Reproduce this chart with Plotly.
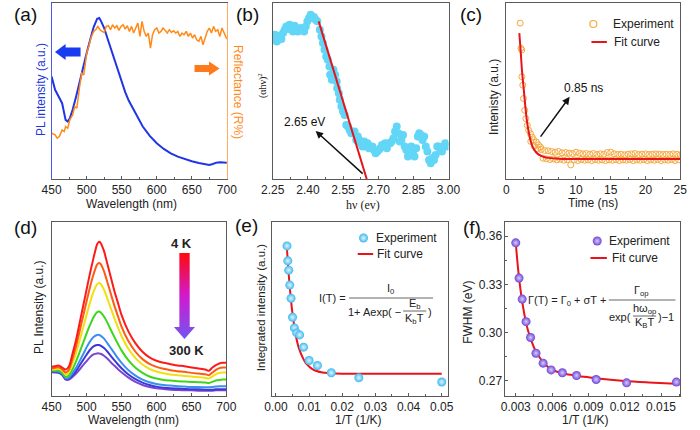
import plotly.graph_objects as go

# ---------------- (a) PL spectrum and reflectance ----------------
a_pl_wl = [450,455,460,465,470,473,476,480,485,490,495,500,505,510,515,518,520,525,530,535,
           540,545,550,555,560,570,580,590,600,610,620,630,640,650,660,670,675,680,685,690,695,700]
a_pl = [307,267,247,227,177,172,182,207,247,292,337,377,417,455,480,482,475,452,419,387,
        352,319,287,260,235,194,157,129,107,90,77,67,59,53,48,44,42,45,49,50,50,49]
a_ref_wl = [450,455,458,461,465,468,470,473,476,480,483,486,490,493,496,498,500,503,506,
            510,513,516,519,522,525,528,531,534,537,540,543,546,549,552,555,558,561,564,567,
            570,573,576,579,582,585,588,591,594,597,600,603,606,609,612,615,618,621,624,627,
            630,633,636,639,642,645,648,651,654,657,660,663,666,669,672,675,678,681,684,687,
            690,693,696,700]
a_ref = [137,132,122,127,147,142,157,152,177,192,217,212,277,317,312,347,377,397,422,
         442,447,457,447,442,439,457,459,447,462,452,459,445,457,462,449,459,442,457,437,
         452,467,427,472,442,427,437,392,432,447,452,437,442,452,445,437,447,439,444,437,
         442,427,437,432,442,427,437,422,432,417,412,427,402,422,442,452,437,457,442,447,
         427,452,437,419]

# ---------------- (b) Tauc plot ----------------
b_e = [2.253,2.260,2.267,2.274,2.280,2.287,2.294,2.301,2.308,2.315,2.322,2.329,2.336,2.343,
       2.350,2.357,2.363,2.370,2.377,2.384,2.391,2.398,2.405,2.412,2.419,2.426,2.433,2.440,
       2.451,2.458,2.464,2.471,2.478,2.485,2.492,2.495,2.502,2.509,2.516,2.523,2.525,2.532,
       2.536,2.543,2.550,2.557,2.564,2.571,2.578,2.585,2.592,2.599,2.606,2.613,
       2.619,2.626,2.633,2.640,2.647,2.654,2.661,2.668,2.675,2.682,2.689,2.696,2.702,2.709,
       2.716,2.723,2.730,2.737,2.744,2.751,2.758,2.765,2.772,2.779,2.786,2.792,2.799,2.806,
       2.813,2.820,2.827,2.834,2.841,2.848,2.855,2.862,2.869,2.875,2.882,2.889,2.896,2.903,
       2.910,2.917,2.924,2.931,2.938,2.945,2.952,2.958,2.965,2.972,2.979,2.986,2.993]
b_abs = [422,432,412,417,429,419,437,447,457,449,462,452,442,459,452,442,447,452,445,442,
         457,472,482,492,482,485,477,472,
         447,427,407,387,367,357,337,312,297,327,312,292,272,257,237,217,202,192,162,157,
         147,137,137,142,117,127,
         117,107,97,112,97,107,92,97,97,87,77,82,87,92,102,97,107,92,107,107,
         112,122,142,157,137,112,117,132,97,87,67,87,97,77,67,92,127,137,132,117,
         127,97,82,57,47,62,57,72,97,97,87,82,97,107,97]
b_fit_e = [2.446, 2.651]
b_fit = [472, 0]

# ---------------- (c) PL decay ----------------
c_t = [1.98,2.08,2.2,2.22,2.35,2.45,2.63,2.8,3.0,3.2,3.46,3.5,3.7,3.9,4.0,4.3,4.5,4.6,4.9,
       5.0,5.25,5.5,5.75,6.0,6.25,6.5,6.75,7.0,7.25,7.5,7.75,8.0,8.25,8.5,8.75,9.0,9.25,9.5,9.75,
       10.0,10.25,10.5,10.75,11.0,11.25,11.5,11.75,12.0,12.25,12.5,12.75,13.0,13.25,13.5,13.75,
       14.0,14.25,14.5,14.75,15.0,15.25,15.5,15.75,16.0,16.25,16.5,16.75,17.0,17.25,17.5,17.75,
       18.0,18.25,18.5,18.75,19.0,19.25,19.5,19.75,20.0,20.25,20.5,20.75,21.0,21.25,21.5,21.75,
       22.0,22.25,22.5,22.75,23.0,23.25,23.5,23.75,24.0,24.25,24.5,24.75,25.0]
c_int = [465,390,385,305,280,240,205,180,160,145,135,112,125,117,98,110,90,102,95,
         88,62,85,60,84,58,82,60,80,57,82,59,78,56,79,58,77,42,76,57,
         80,55,77,58,75,56,76,57,74,55,76,58,73,56,75,57,
         74,55,79,57,80,56,75,58,73,55,74,57,72,56,74,58,
         75,55,76,57,73,56,74,58,75,55,73,57,74,56,75,58,
         74,55,73,57,74,56,73,58,75,55,74,57,72]
c_fit_t = [1.85,2.0,2.25,2.5,2.75,3.0,3.25,3.5,3.75,4.0,4.5,5.0,5.5,6.0,7.0,8.0,25.0]
c_fit = [435,395,320,265,210,165,135,112,97,87,75,69,65,63,61,60,60]

# ---------------- (d) temperature-dependent PL ----------------
d_wl = [450,455,460,465,470,475,480,485,490,495,500,505,510,515,518,520,525,530,535,540,
        545,550,560,570,580,590,600,610,620,630,640,650,660,670,675,680,685,690,695,700]
d_4K = [87,89,91,85,79,89,127,167,217,267,317,367,412,452,460,457,432,392,352,312,
        277,242,192,157,132,115,105,99,95,91,89,85,82,79,75,85,92,97,99,99]
d_T2 = [82,84,86,80,70,80,112,148,192,237,282,325,363,392,397,394,372,338,303,268,
        237,207,163,132,110,96,87,81,77,74,72,69,67,65,62,70,78,83,85,85]
d_T3 = [79,80,82,76,64,72,98,128,165,203,242,279,311,333,337,335,317,289,260,231,
        204,179,140,113,94,81,73,68,64,62,60,58,56,54,52,58,65,69,70,70]
d_T4 = [77,76,76,70,57,62,80,103,130,158,186,212,235,250,252,250,237,218,196,175,
        155,136,106,84,69,58,52,48,46,44,43,42,41,40,39,42,46,48,49,49]
d_T5 = [75,74,73,67,53,55,68,84,104,124,145,163,176,182,182,180,171,157,142,127,
        112,99,77,61,49,41,36,33,31,29,28,27,27,26,26,27,28,29,29,29]
d_T6 = [73,72,71,65,51,52,62,75,91,107,123,138,148,152,152,150,143,132,119,106,
        94,83,64,50,40,33,28,25,23,22,21,20,20,19,19,19,20,20,20,20]
d_300K = [71,70,69,63,49,49,57,67,79,92,104,116,124,127,127,126,120,111,100,90,
          80,71,55,42,33,27,23,21,19,18,17,17,16,16,16,16,17,17,17,17]
d_series = [d_300K, d_T6, d_T5, d_T4, d_T3, d_T2, d_4K]
d_colors = ["#7b45d0", "#3a3ad8", "#3a8ff0", "#3dd61a", "#f0e010", "#ff5a14", "#ff1a1a"]

# ---------------- (e) integrated intensity ----------------
e_invT = [0.00333,0.00357,0.00385,0.00417,0.00455,0.005,0.00556,0.00625,0.00714,0.00833,
          0.01,0.0125,0.0167,0.025,0.05]
e_int = [452,407,379,334,294,237,205,190,184,147,107,92,70,55,42]
e_fit_x = [0.0033,0.0036,0.004,0.0045,0.005,0.0055,0.006,0.0065,0.007,0.008,0.009,0.010,
           0.011,0.012,0.014,0.016,0.02,0.03,0.05]
e_fit = [445,402,347,292,247,212,182,159,142,117,99,89,81,76,71,69,67,67,67]

# ---------------- (f) FWHM ----------------
f_invT = [0.0030,0.00327,0.00353,0.00385,0.00422,0.00467,0.00526,0.00592,0.00685,0.00802,
          0.00964,0.01216,0.01627]
f_fwhm = [0.3559,0.3339,0.3208,0.3067,0.2968,0.2870,0.2808,0.2766,0.2748,0.2731,
          0.2706,0.2685,0.2690]
f_fit_x = [0.0030,0.0032,0.0034,0.0036,0.0038,0.0040,0.0043,0.0046,0.0050,0.0055,0.0060,
           0.0065,0.0070,0.0080,0.0090,0.0100,0.0120,0.0140,0.0162]
f_fit = [0.3559,0.3390,0.3260,0.3160,0.3078,0.3015,0.2945,0.2890,0.2840,0.2795,0.2767,
         0.2752,0.2742,0.2730,0.2720,0.2711,0.2697,0.2688,0.2680]

# ================= figure =================
W, H = 700, 430
def px(x): return x / W
def py(y): return 1 - y / H

FONT = "Liberation Sans, Arial, sans-serif"
GRAY = "#5a5a5a"
RED = "#e8141b"
TOP = [py(179), py(3)]
BOT = [py(396), py(222)]

fig = go.Figure()

# (a)
fig.add_trace(go.Scatter(x=a_pl_wl, y=a_pl, xaxis="x", yaxis="y", mode="lines",
                         line=dict(color="#1f35e6", width=2)))
fig.add_trace(go.Scatter(x=a_ref_wl, y=a_ref, xaxis="x", yaxis="y8", mode="lines",
                         line=dict(color="#ff8a1a", width=1.5)))
# (b)
fig.add_trace(go.Scatter(x=b_e, y=b_abs, xaxis="x2", yaxis="y2", mode="markers",
                         marker=dict(color="#62d6f6", size=8)))
fig.add_trace(go.Scatter(x=b_fit_e, y=b_fit, xaxis="x2", yaxis="y2", mode="lines",
                         line=dict(color=RED, width=2)))
# (c)
fig.add_trace(go.Scatter(x=c_t, y=c_int, xaxis="x3", yaxis="y3", mode="markers",
                         marker=dict(symbol="circle-open", color="#f5a83c", size=6,
                                     line=dict(width=1))))
fig.add_trace(go.Scatter(x=c_fit_t, y=c_fit, xaxis="x3", yaxis="y3", mode="lines",
                         line=dict(color=RED, width=2, shape="spline")))
# (d)
for s, c in zip(d_series, d_colors):
    fig.add_trace(go.Scatter(x=d_wl, y=s, xaxis="x4", yaxis="y4", mode="lines",
                             line=dict(color=c, width=2, shape="spline", smoothing=0.6)))
# (e)
fig.add_trace(go.Scatter(x=e_fit_x, y=e_fit, xaxis="x5", yaxis="y5", mode="lines",
                         line=dict(color=RED, width=2, shape="spline")))
fig.add_trace(go.Scatter(x=e_invT, y=e_int, xaxis="x5", yaxis="y5", mode="markers",
                         marker=dict(color="#3fb8ee", size=9,
                                     gradient=dict(type="radial", color="#dff6ff"))))
# (f)
fig.add_trace(go.Scatter(x=f_fit_x, y=f_fit, xaxis="x6", yaxis="y6", mode="lines",
                         line=dict(color=RED, width=2, shape="spline")))
fig.add_trace(go.Scatter(x=f_invT, y=f_fwhm, xaxis="x6", yaxis="y6", mode="markers",
                         marker=dict(color="#6f45d6", size=9,
                                     gradient=dict(type="radial", color="#d8ccff"))))

# ---- decorations on a full-canvas pixel overlay (x9/y9) ----
def poly(pts, **kw):
    xs = [p[0] for p in pts] + [pts[0][0]]
    ys = [p[1] for p in pts] + [pts[0][1]]
    fig.add_trace(go.Scatter(x=xs, y=ys, xaxis="x9", yaxis="y9", mode="lines",
                             fill="toself", line=dict(width=0), hoverinfo="skip", **kw))

# block arrows in (a)
poly([(44.5, 52), (55.5, 44), (55.5, 47.5), (71, 47.5), (71, 56.5), (55.5, 56.5), (55.5, 60)],
     fillcolor="#1a3cf0")
poly([(215, 68.5), (204, 61.5), (204, 65), (189, 65), (189, 72), (204, 72), (204, 75.5)],
     fillcolor="#ff7a1a")
# gradient arrow in (d)
poly([(173.3, 253), (184, 253), (184, 327), (189.5, 327), (178.6, 339), (167.7, 327), (173.3, 327)],
     fillgradient=dict(type="vertical", start=253, stop=339,
                       colorscale=[[0, "#ff0a0a"], [0.5, "#d01ad0"], [1, "#7355f0"]]))

# legend symbols
def leg_marker(x, y, marker):
    fig.add_trace(go.Scatter(x=[x], y=[y], xaxis="x9", yaxis="y9", mode="markers",
                             marker=marker, hoverinfo="skip"))
def leg_line(x0, x1, y):
    fig.add_trace(go.Scatter(x=[x0, x1], y=[y, y], xaxis="x9", yaxis="y9", mode="lines",
                             line=dict(color=RED, width=2), hoverinfo="skip"))

leg_marker(602, 24, dict(symbol="circle-open", color="#f5a83c", size=7, line=dict(width=1.2)))
leg_line(600, 616, 42)
leg_marker(364, 238, dict(color="#3fb8ee", size=9, gradient=dict(type="radial", color="#dff6ff")))
leg_line(358, 374, 254)
leg_marker(606, 241, dict(color="#6f45d6", size=9, gradient=dict(type="radial", color="#d8ccff")))
leg_line(599, 616, 258)

# ---- axes ----
tickfont = dict(family=FONT, size=12, color="#222")
def xax(domain, rng, anchor, tick0, dtick, minor, fmt=None):
    d = dict(domain=domain, range=rng, anchor=anchor, showline=True, linecolor=GRAY,
             linewidth=1, mirror=True, ticks="inside", ticklen=3, tickcolor=GRAY,
             tick0=tick0, dtick=dtick, showgrid=False, zeroline=False, tickfont=tickfont,
             minor=dict(ticks="inside", ticklen=2, tickcolor=GRAY, dtick=minor, showgrid=False),
             fixedrange=True)
    if fmt:
        d["tickformat"] = fmt
    return d
def yax(domain, rng, anchor):
    return dict(domain=domain, range=rng, anchor=anchor, showline=True, linecolor=GRAY,
                linewidth=1, mirror=True, ticks="", showticklabels=False, showgrid=False,
                zeroline=False, fixedrange=True)

layout = dict(
    width=W, height=H, margin=dict(l=0, r=0, t=0, b=0), autosize=False,
    paper_bgcolor="white", plot_bgcolor="rgba(0,0,0,0)", showlegend=False,
    font=dict(family=FONT, size=12, color="#222"), hovermode=False,
    xaxis=xax([px(41), px(222.5)], [450, 700], "y", 450, 50, 25),
    yaxis=dict(yax(TOP, [0, 527], "x"), mirror=False, linecolor="#4a5cf0"),
    yaxis8=dict(domain=TOP, range=[0, 527], anchor="x", overlaying="y", side="right",
                showline=True, linecolor="#ffae60", linewidth=1, ticks="",
                showticklabels=False, showgrid=False, zeroline=False, fixedrange=True),
    xaxis2=xax([px(270), px(452)], [2.25, 3.0], "y2", 2.25, 0.15, 0.075, ".2f"),
    yaxis2=yax(TOP, [0, 527], "x2"),
    xaxis3=xax([px(512), px(692)], [0, 25], "y3", 0, 5, 2.5),
    yaxis3=yax(TOP, [0, 525], "x3"),
    xaxis4=xax([px(41), px(222)], [450, 700], "y4", 450, 50, 25),
    yaxis4=yax(BOT, [0, 519], "x4"),
    xaxis5=xax([px(269), px(451)], [-0.00126, 0.05175], "y5", 0, 0.01, 0.005, ".2f"),
    yaxis5=yax(BOT, [0, 524], "x5"),
    xaxis6=xax([px(511), px(692)], [0.00215, 0.01659], "y6", 0.003, 0.003, 0.0015, ".3f"),
    yaxis6=dict(yax(BOT, [0.2603, 0.3689], "x6"), ticks="inside", ticklen=3, tickcolor=GRAY,
                showticklabels=True, tick0=0.27, dtick=0.03, tickformat=".2f", tickfont=tickfont,
                minor=dict(ticks="inside", ticklen=2, tickcolor=GRAY, dtick=0.015)),
    xaxis9=dict(domain=[0, 1], range=[0, W], anchor="y9", visible=False, fixedrange=True),
    yaxis9=dict(domain=[0, 1], range=[H, 0], anchor="x9", visible=False, fixedrange=True),
)
fig.update_layout(**layout)

# ---- annotations ----
ann = []
def text(x, y, s, size=12, color="#222", xanchor="center", angle=0, family=FONT):
    ann.append(dict(x=px(x), y=py(y), xref="paper", yref="paper", text=s, showarrow=False,
                    xanchor=xanchor, yanchor="middle", textangle=angle, borderpad=0,
                    font=dict(family=family, size=size, color=color)))

# panel letters
for lab, x, y in [("(a)", 14, 15), ("(b)", 244, 15), ("(c)", 475, 15),
                  ("(d)", 14, 227), ("(e)", 243, 225), ("(f)", 476, 228)]:
    text(x, y, lab, size=19, color="#111")

# axis titles
text(124, 204, "Wavelength (nm)")
text(30, 89, "PL intensity (a.u.)", color="#2236e0", angle=-90)
text(234, 92, "Reflectance (R%)", color="#ff8a1a", angle=90)
text(363, 205, "hν (ev)", family="Liberation Serif, Times New Roman, serif", size=12)
text(260, 86, "(αhν)<sup>2</sup>", family="Liberation Serif, Times New Roman, serif",
     size=10, angle=-90)
text(602, 203, "Time (ns)")
text(499, 97, "Intenisty (a.u.)", angle=-90)
text(126, 420, "Wavelength (nm)")
text(28, 307, "PL Intensity (a.u.)", angle=-90)
text(358, 420, "1/T (1/K)")
text(258, 308, "Integrated intensity (a.u.)", size=11.5, angle=-90)
text(593, 420, "1/T (1/K)")
text(472, 312, "FWHM (eV)", angle=-90)

# legends
text(621, 24, "Experiment", xanchor="left")
text(622, 42, "Fit curve", xanchor="left")
text(376, 238, "Experiment", xanchor="left")
text(377, 254, "Fit curve", xanchor="left")
text(617, 241, "Experiment", xanchor="left")
text(620, 258, "Fit curve", xanchor="left")

# (d) temperature labels
text(176, 243, "<b>4 K</b>", size=13)
text(181, 350, "<b>300 K</b>", size=13)

# (e) equation
text(347, 298, "I(T) =", size=11, xanchor="right")
text(392, 289, "I<sub>0</sub>", size=11)
text(404, 312, "1+ Aexp( −", size=11, xanchor="right")
text(417, 304, "E<sub>b</sub>", size=11)
text(417, 319, "K<sub>b</sub>T", size=11)
text(430, 312, ")", size=11, xanchor="left")
# (f) equation
text(616, 301, "Γ(T) = Γ<sub>0</sub> + σT +", size=11, xanchor="right")
text(652, 291, "Γ<sub>op</sub>", size=11)
text(642, 317, "exp(", size=11, xanchor="right")
text(655, 309, "hω<sub>op</sub>", size=11)
text(655, 323, "K<sub>B</sub>T", size=11)
text(668, 317, ")−1", size=11, xanchor="left")

# data-space arrows with labels
ann.append(dict(x=2.433, y=144, ax=2.640, ay=12, xref="x2", yref="y2", axref="x2", ayref="y2",
                showarrow=True, arrowhead=2, arrowsize=1, arrowwidth=1.5, arrowcolor="#111", text=""))
ann.append(dict(x=2.384, y=172, xref="x2", yref="y2", text="2.65 eV", showarrow=False,
                font=dict(family=FONT, size=12, color="#111")))
ann.append(dict(x=9.09, y=245, ax=4.75, ay=122, xref="x3", yref="y3", axref="x3", ayref="y3",
                showarrow=True, arrowhead=2, arrowsize=1, arrowwidth=1.5, arrowcolor="#111", text=""))
ann.append(dict(x=11.1, y=270, xref="x3", yref="y3", text="0.85 ns", showarrow=False,
                font=dict(family=FONT, size=12, color="#111")))
fig.update_layout(annotations=ann)

# fraction bars
shapes = []
for x0, x1, y in [(349, 436, 298), (405, 429, 311), (618, 687, 300), (643, 667, 316)]:
    shapes.append(dict(type="line", xref="paper", yref="paper", x0=px(x0), x1=px(x1),
                       y0=py(y), y1=py(y), line=dict(color="#666", width=1)))
fig.update_layout(shapes=shapes)

# remove the default page margin so the figure sits at the window's top-left corner
fig.write_html("out.html", config={"displayModeBar": False},
               post_script="document.body.style.margin='0px';document.body.style.overflow='hidden';")
